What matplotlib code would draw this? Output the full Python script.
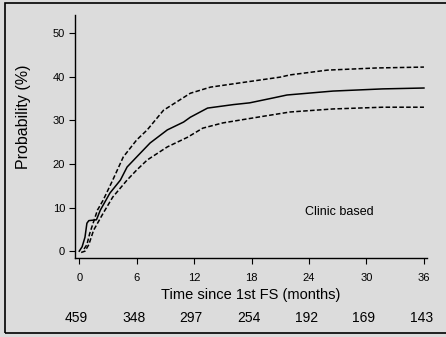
import matplotlib
matplotlib.use("Agg")
import matplotlib.pyplot as plt
from matplotlib.patches import Rectangle

plt.rcParams['font.family'] = ['Liberation Sans Narrow', 'Liberation Sans', 'DejaVu Sans']

# Kaplan-Meier style cumulative probability (%) estimates
t_mid = [0, 0.3, 0.6, 0.8, 1.0, 1.8, 2.2, 3.2, 4.3, 5.0, 6.0, 7.4, 9.2, 10.9, 11.6,
         13.4, 16.1, 17.8, 20.2, 21.7, 26.5, 31.7, 36]
p_mid = [0, 1.0, 3.2, 6.4, 7.0, 7.2, 9.4, 13.3, 16.3, 19.3, 21.6, 24.8, 27.8, 29.6, 30.7,
         32.8, 33.6, 34.0, 35.1, 35.8, 36.7, 37.2, 37.4]

t_up = [0.5, 0.8, 1.1, 1.9, 2.5, 3.5, 4.6, 6.0, 7.1, 8.8, 11.6, 13.7, 17.5, 21.0, 22.0,
        25.9, 31.1, 36]
p_up = [0.5, 1.5, 4.1, 9.4, 11.7, 16.3, 21.6, 25.5, 27.8, 32.3, 36.2, 37.6, 38.8, 39.9, 40.4,
        41.5, 42.0, 42.2]

t_lo = [0.2, 0.6, 1.0, 1.5, 2.5, 3.5, 5.0, 6.0, 7.1, 9.2, 11.3, 12.9, 15.0, 18.6, 22.0,
        26.5, 31.7, 36]
p_lo = [-0.3, 0.0, 1.5, 4.8, 8.7, 12.4, 16.3, 18.6, 20.9, 23.9, 26.1, 28.2, 29.4, 30.7, 31.9,
        32.6, 33.0, 33.0]

x_ticks = [0, 6, 12, 18, 24, 30, 36]
y_ticks = [0, 10, 20, 30, 40, 50]
at_risk = [459, 348, 297, 254, 192, 169, 143]

bg = '#dcdcdc'
fig = plt.figure(figsize=(4.46, 3.37), dpi=100, facecolor=bg)
fig.patches.append(Rectangle((0.011, 0.012), 0.995, 0.979, transform=fig.transFigure,
                             fill=False, edgecolor='black', linewidth=1.2))
ax = fig.add_axes([0.168, 0.234, 0.789, 0.721])
ax.set_facecolor(bg)

ax.plot(t_mid, p_mid, color='black', linewidth=1.1)
ax.plot(t_up, p_up, color='black', linewidth=1.1, linestyle=(0, (3, 1.5)))
ax.plot(t_lo, p_lo, color='black', linewidth=1.1, linestyle=(0, (3, 1.5)))

ax.set_xlim(-0.45, 36.3)
ax.set_ylim(-1.6, 54.1)
ax.set_xticks(x_ticks)
ax.set_yticks(y_ticks)
ax.tick_params(direction='out', length=4, width=0.8, labelsize=8, colors='black')
ax.tick_params(axis='x', pad=7)
ax.tick_params(axis='y', pad=3)
for s in ['top', 'right']:
    ax.spines[s].set_visible(False)
for s in ['left', 'bottom']:
    ax.spines[s].set_linewidth(1.0)

ax.set_ylabel('Probability (%)', fontsize=11.5, labelpad=5)
ax.yaxis.set_label_coords(-0.125, 0.58)
ax.set_xlabel('Time since 1st FS (months)', fontsize=10.5, labelpad=3)
ax.text(27.2, 8.9, 'Clinic based', fontsize=9, ha='center', va='center')

for x, n in zip(x_ticks, at_risk):
    ax.annotate(str(n), xy=(x, 0), xycoords=('data', 'axes fraction'),
                xytext=(-2, -43), textcoords='offset points',
                ha='center', va='center', fontsize=10)

fig.savefig('out.png', dpi=100, facecolor=bg)
